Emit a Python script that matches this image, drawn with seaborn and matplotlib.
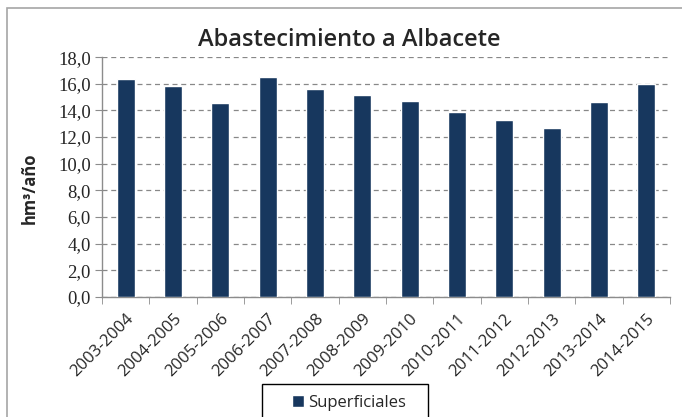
import numpy as np
import pandas as pd
import matplotlib.pyplot as plt
import seaborn as sns
from matplotlib.patches import Rectangle, Patch

# Data
campaigns = ['2003-2004', '2004-2005', '2005-2006', '2006-2007', '2007-2008', '2008-2009',
             '2009-2010', '2010-2011', '2011-2012', '2012-2013', '2013-2014', '2014-2015']
superficiales = [16.33, 15.83, 14.53, 16.53, 15.63, 15.15, 14.7, 13.85, 13.25, 12.65, 14.6, 15.98]

df = pd.DataFrame({'Campaña': campaigns, 'Superficiales': superficiales})

sns.set_style('white')
bar_color = '#17375E'
axis_gray = '#8c8c8c'

fig = plt.figure(figsize=(6.82, 4.17), dpi=100)
ax = fig.add_axes([0.1496, 0.288, 0.833, 0.575])

sns.barplot(data=df, x='Campaña', y='Superficiales', color=bar_color, width=0.38,
            saturation=1, ax=ax, zorder=3)

ax.set_xlim(-0.5, len(campaigns) - 0.5)
ax.set_ylim(0, 18)
ax.set_yticks(range(0, 19, 2))
ax.set_yticklabels([f'{v:.1f}'.replace('.', ',') for v in range(0, 19, 2)],
                   family='Liberation Serif', fontsize=13.5)
ax.set_xticklabels(campaigns, rotation=45, ha='right', rotation_mode='anchor',
                   family='Open Sans', fontsize=12)
# category boundary ticks on the x axis
ax.set_xticks(np.arange(-0.5, len(campaigns)), minor=True)
ax.tick_params(axis='x', which='major', length=0, pad=10)
ax.tick_params(axis='x', which='minor', length=5, color=axis_gray, direction='out', bottom=True)
ax.tick_params(axis='y', length=5, color=axis_gray, direction='out', left=True, pad=3)
ax.yaxis.grid(True, linestyle=(0, (4, 3)), color='#888888', linewidth=0.9, zorder=0)
ax.set_axisbelow(True)

for side in ['top', 'right']:
    ax.spines[side].set_visible(False)
for side in ['left', 'bottom']:
    ax.spines[side].set_color(axis_gray)
    ax.spines[side].set_linewidth(1)

ax.set_xlabel('')
ax.set_ylabel('')
fig.text(30 / 682, 1 - 188 / 417, 'hm³/año', rotation=90, ha='center', va='center',
         family='Open Sans', fontweight='bold', fontsize=12)
fig.text(349 / 682, 1 - 40 / 417, 'Abastecimiento a Albacete', ha='center', va='center',
         family='Open Sans', fontweight='semibold', fontsize=17)

# legend at the bottom, partly cut off
leg = fig.legend(handles=[Patch(facecolor=bar_color, label='Superficiales')],
                 loc='center', bbox_to_anchor=(349 / 682, 1 - 403 / 417), frameon=False,
                 prop={'family': 'Open Sans', 'size': 12},
                 handlelength=0.75, handleheight=0.75, handletextpad=0.25)
fig.patches.append(Rectangle((262 / 682, -0.05), 166 / 682, 0.05 + 33 / 417,
                             transform=fig.transFigure, fill=False,
                             edgecolor='black', linewidth=1))

# outer chart frame (runs past the right and bottom edges)
fig.patches.append(Rectangle((7 / 682, -0.05), 1.0, 1.05 - 8 / 417, transform=fig.transFigure,
                             fill=False, edgecolor='#a6a6a6', linewidth=1.2))

fig.savefig('out.png', dpi=100)
